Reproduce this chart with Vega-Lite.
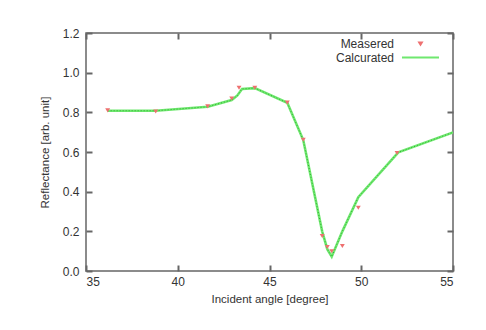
{
  "$schema": "https://vega.github.io/schema/vega-lite/v6.json",
  "width": 367,
  "height": 238,
  "autosize": "none",
  "padding": {"left": 86, "top": 33, "right": 33, "bottom": 59},
  "background": "white",
  "config": {
    "font": "Liberation Sans",
    "view": {"stroke": "#666666", "strokeWidth": 1.5},
    "axis": {
      "grid": false,
      "domain": false,
      "ticks": true,
      "offset": -6,
      "tickColor": "#666666",
      "tickSize": 6,
      "tickWidth": 2,
      "tickOpacity": 1,
      "labelFont": "Liberation Sans",
      "labelFontSize": 12,
      "labelColor": "#333333",
      "titleFont": "Liberation Sans",
      "titleFontSize": 11.5,
      "titleFontWeight": "normal",
      "titleColor": "#333333"
    },
    "legend": {
      "title": null,
      "orient": "none",
      "legendX": 325,
      "legendY": 1,
      "symbolOffset": 0,
      "symbolSize": 169,
      "labelAlign": "right",
      "labelOffset": -34,
      "rowPadding": 0,
      "padding": 2,
      "symbolStrokeWidth": 2,
      "labelFont": "Liberation Sans",
      "labelFontSize": 12,
      "labelColor": "#333333"
    }
  },
  "data": {
    "values": [
      {"series": "Measered", "angle": 36.18, "refl": 0.812},
      {"series": "Measered", "angle": 38.8, "refl": 0.806},
      {"series": "Measered", "angle": 41.63, "refl": 0.832},
      {"series": "Measered", "angle": 42.94, "refl": 0.872},
      {"series": "Measered", "angle": 43.34, "refl": 0.926},
      {"series": "Measered", "angle": 44.2, "refl": 0.926},
      {"series": "Measered", "angle": 45.97, "refl": 0.851},
      {"series": "Measered", "angle": 46.84, "refl": 0.664},
      {"series": "Measered", "angle": 47.87, "refl": 0.178},
      {"series": "Measered", "angle": 48.15, "refl": 0.123},
      {"series": "Measered", "angle": 48.39, "refl": 0.102},
      {"series": "Measered", "angle": 48.97, "refl": 0.128},
      {"series": "Measered", "angle": 49.84, "refl": 0.321},
      {"series": "Measered", "angle": 51.95, "refl": 0.597},
      {"series": "Calcurated", "angle": 36.18, "refl": 0.808},
      {"series": "Calcurated", "angle": 38.8, "refl": 0.808},
      {"series": "Calcurated", "angle": 41.63, "refl": 0.828},
      {"series": "Calcurated", "angle": 42.94, "refl": 0.862},
      {"series": "Calcurated", "angle": 43.25, "refl": 0.885},
      {"series": "Calcurated", "angle": 43.5, "refl": 0.918},
      {"series": "Calcurated", "angle": 44.2, "refl": 0.922},
      {"series": "Calcurated", "angle": 45.97, "refl": 0.848},
      {"series": "Calcurated", "angle": 46.84, "refl": 0.66},
      {"series": "Calcurated", "angle": 47.87, "refl": 0.2},
      {"series": "Calcurated", "angle": 48.15, "refl": 0.11},
      {"series": "Calcurated", "angle": 48.39, "refl": 0.072},
      {"series": "Calcurated", "angle": 48.97, "refl": 0.2},
      {"series": "Calcurated", "angle": 49.84, "refl": 0.372},
      {"series": "Calcurated", "angle": 52.02, "refl": 0.598},
      {"series": "Calcurated", "angle": 55.0, "refl": 0.699}
    ]
  },
  "layer": [
    {
      "transform": [{"filter": "datum.series === 'Calcurated'"}],
      "mark": {"type": "line", "strokeWidth": 2.6, "clip": true},
      "encoding": {
        "x": {
          "field": "angle", "type": "quantitative",
          "scale": {"domain": [35, 55], "nice": false},
          "axis": {"values": [35, 40, 45, 50, 55], "ticks": true, "tickSize": 6, "tickColor": "#666666", "title": "Incident angle [degree]", "labelPadding": 5, "titlePadding": 6}
        },
        "y": {
          "field": "refl", "type": "quantitative",
          "scale": {"domain": [0, 1.2], "nice": false},
          "axis": {"values": [0, 0.2, 0.4, 0.6, 0.8, 1.0, 1.2], "ticks": true, "tickSize": 6, "tickColor": "#666666", "format": ".1f", "title": "Reflectance [arb. unit]", "labelPadding": 7, "titlePadding": 12}
        },
        "color": {
          "field": "series", "type": "nominal",
          "scale": {"domain": ["Measered", "Calcurated"], "range": ["#ee7070", "#6fe86f"]}
        }
      }
    },
    {
      "transform": [{"filter": "datum.series === 'Calcurated'"}],
      "mark": {"type": "line", "strokeWidth": 1, "strokeDash": [1, 2], "color": "#2fae2f", "clip": true},
      "encoding": {
        "x": {"field": "angle", "type": "quantitative", "axis": null},
        "y": {"field": "refl", "type": "quantitative", "axis": null}
      }
    },
    {
      "transform": [{"filter": "datum.series === 'Measered'"}],
      "mark": {"type": "point", "filled": false, "strokeWidth": 1.3, "size": 169, "opacity": 1},
      "encoding": {
        "x": {
          "field": "angle", "type": "quantitative",
          "axis": {"orient": "top", "values": [35, 40, 45, 50, 55], "ticks": true, "tickSize": 6, "tickColor": "#666666", "labels": false, "title": null}
        },
        "y": {
          "field": "refl", "type": "quantitative",
          "axis": {"orient": "right", "values": [0, 0.2, 0.4, 0.6, 0.8, 1.0, 1.2], "ticks": true, "tickSize": 6, "tickColor": "#666666", "labels": false, "title": null}
        },
        "color": {"field": "series", "type": "nominal"},
        "shape": {
          "field": "series", "type": "nominal",
          "scale": {"domain": ["Measered", "Calcurated"], "range": ["M-0.2,-0.15L0.2,-0.15L0,0.18Z", "M-2.85,0H2.85"]}
        }
      }
    }
  ],
  "resolve": {"axis": {"x": "independent", "y": "independent"}}
}
